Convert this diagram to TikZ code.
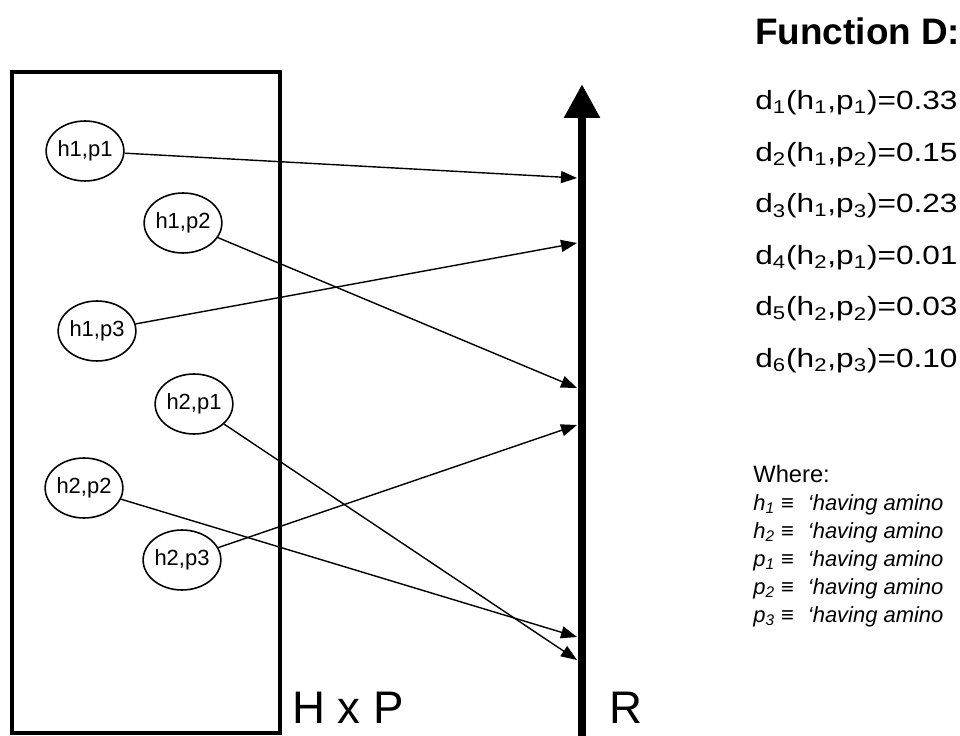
\documentclass[tikz,border=0pt]{standalone}
\usepackage{fontspec}
\setmainfont{Liberation Sans}
\newfontfamily\widesans[FakeStretch=1.2]{Liberation Sans}
\usetikzlibrary{shapes.geometric,arrows.meta}

\begin{document}
\begin{tikzpicture}[x=0.02cm,y=-0.02cm,
    pair/.style={draw,ellipse,line width=0.9pt,minimum width=1.48cm,minimum height=1.2cm,inner sep=0pt,font=\fontsize{12.5}{14}\selectfont},
    map/.style={line width=0.8pt,-{Triangle[length=0.32cm,width=0.24cm]}},
    dval/.style={anchor=base west,inner sep=0pt,font=\widesans\fontsize{15}{18}\selectfont},
    defn/.style={anchor=base west,inner sep=0pt,font=\fontsize{12.5}{15}\selectfont\itshape},
    big/.style={anchor=base west,inner sep=0pt,font=\fontsize{26}{30}\selectfont}]
\path[use as bounding box,clip] (0,0) rectangle (960,736);
%
% the set H x P
\draw[line width=2.2pt] (12,72) rectangle (280,733);
\node[pair] (hp11) at (85,151) {h1,p1};
\node[pair] (hp12) at (183,223) {h1,p2};
\node[pair] (hp13) at (97,331) {h1,p3};
\node[pair] (hp21) at (194,404) {h2,p1};
\node[pair] (hp22) at (84,488) {h2,p2};
\node[pair] (hp23) at (182,560) {h2,p3};
\node[big] (hxp) at (292,723) {H x P};
%
% the axis R
\coordinate (rbot) at (582,736);
\coordinate (rtop) at (582,84);
\draw[line width=5pt,-{Triangle[length=0.68cm,width=0.68cm]}] (rbot) -- (rtop);
\node[big] (rlab) at (609,723) {R};
\coordinate (r1) at (577,178);
\coordinate (r2) at (577,388);
\coordinate (r3) at (577,243);
\coordinate (r4) at (577,660);
\coordinate (r5) at (577,637);
\coordinate (r6) at (577,425);
%
\draw[map] (hp11) -- (r1);
\draw[map] (hp12) -- (r2);
\draw[map] (hp13) -- (r3);
\draw[map] (hp21) -- (r4);
\draw[map] (hp22) -- (r5);
\draw[map] (hp23) -- (r6);
%
% values of D
\node[anchor=base west,inner sep=0pt,font=\fontsize{21}{25}\selectfont\bfseries] (fund) at (755,45) {Function D:};
\foreach \i/\h/\p/\v in {1/1/1/0.33,2/1/2/0.15,3/1/3/0.23,4/2/1/0.01,5/2/2/0.03,6/2/3/0.10}
    \node[dval] (d\i) at (755,{110+51.5*(\i-1)}) {d\textsubscript{\i}(h\textsubscript{\h},p\textsubscript{\p})=\v};
%
\node[anchor=base west,inner sep=0pt,font=\fontsize{13.5}{16}\selectfont] (where) at (753,482) {Where:};
\foreach \s/\n [count=\k] in {h/1,h/2,p/1,p/2,p/3}
    \node[defn] (def\k) at (753,{482+28*\k}) {\s\textsubscript{\n}\ ≡\hspace{0.28cm}‘having amino};
\end{tikzpicture}
\end{document}
